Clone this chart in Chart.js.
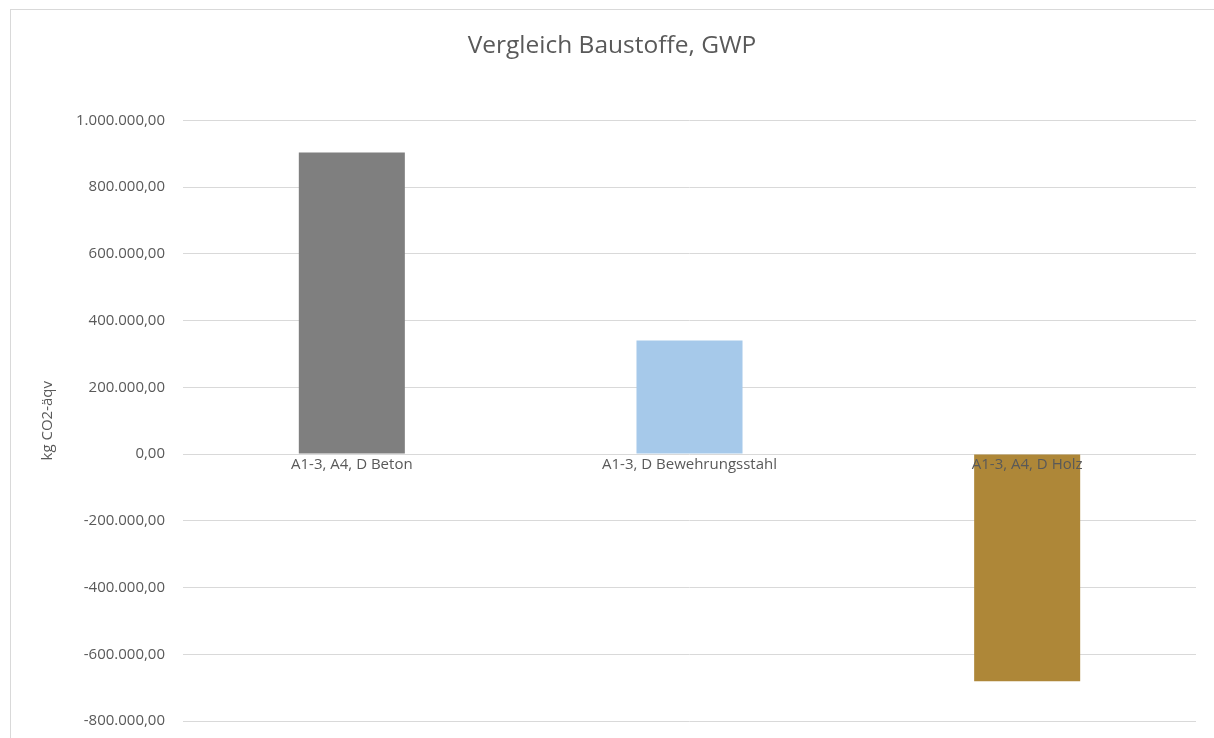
<!DOCTYPE html>
<html>
<head>
<meta charset="utf-8">
<script src="https://cdn.jsdelivr.net/npm/chart.js@4"></script>
<style>
    body { margin: 0; background: #ffffff; }
    #wrap { position: relative; width: 1214px; height: 738px; overflow: hidden; }
    #frame { position: absolute; left: 10px; top: 9px; width: 1300px; height: 800px;
             border-left: 1px solid #d9d9d9; border-top: 1px solid #d9d9d9; }
    canvas { position: absolute; left: 0; top: 0; }
</style>
</head>
<body>
<div id="wrap">
    <div id="frame"></div>
    <canvas id="gwpChart" width="1214" height="738"></canvas>
</div>
<script>
// Vergleich Baustoffe, GWP (kg CO2-äqv)
const categories = ['A1-3, A4, D Beton', 'A1-3, D Bewehrungsstahl', 'A1-3, A4, D Holz'];
const gwpValues = [904000, 340000, -681000];
const barColors = ['#7f7f7f', '#a6c9ea', '#ae8738'];
const yTicks = [-800000, -600000, -400000, -200000, 0, 200000, 400000, 600000, 800000, 1000000];

const textColor = '#595959';
const gridColor = '#d9d9d9';

// German number format, two decimals: 1.000.000,00
function formatDe(num) {
    const neg = num < 0;
    const parts = Math.abs(num).toFixed(2).split('.');
    const intPart = parts[0].replace(/\B(?=(\d{3})+(?!\d))/g, '.');
    return (neg ? '-' : '') + intPart + ',' + parts[1];
}

const ctx = document.getElementById('gwpChart').getContext('2d');

new Chart(ctx, {
    type: 'bar',
    data: {
        labels: categories,
        datasets: [{
            label: 'GWP',
            data: gwpValues,
            backgroundColor: barColors,
            borderWidth: 0,
            categoryPercentage: 1,
            barPercentage: 0.314
        }]
    },
    options: {
        responsive: false,
        animation: false,
        layout: {
            padding: { top: 0, right: 18, bottom: 17, left: 28 }
        },
        plugins: {
            legend: { display: false },
            tooltip: { enabled: false },
            title: {
                display: true,
                text: 'Vergleich Baustoffe, GWP',
                color: textColor,
                font: { family: 'Open Sans', size: 24.5, weight: 'normal', lineHeight: 1.2 },
                padding: { top: 31, bottom: 60 }
            }
        },
        scales: {
            x: {
                position: { y: 0 },
                afterFit: s => { s.height = 0; },
                grid: { display: false, drawTicks: false },
                border: { display: false },
                ticks: {
                    z: 1,
                    color: textColor,
                    padding: 2,
                    maxRotation: 0,
                    autoSkip: false,
                    font: { family: 'Open Sans', size: 15 }
                }
            },
            y: {
                min: yTicks[0],
                max: yTicks[yTicks.length - 1],
                afterFit: s => { s.width = 155; },
                afterBuildTicks: s => { s.ticks = yTicks.map(v => ({ value: v })); },
                grid: { color: gridColor, lineWidth: 1, tickLength: 18, tickColor: 'rgba(0,0,0,0)' },
                border: { display: false },
                ticks: {
                    color: textColor,
                    padding: 0,
                    font: { family: 'Open Sans', size: 15 },
                    callback: v => formatDe(v)
                },
                title: {
                    display: true,
                    text: 'kg CO2-äqv',
                    color: textColor,
                    font: { family: 'Open Sans', size: 15 },
                    padding: { top: 11, bottom: 0 }
                }
            }
        }
    }
});
</script>
</body>
</html>
